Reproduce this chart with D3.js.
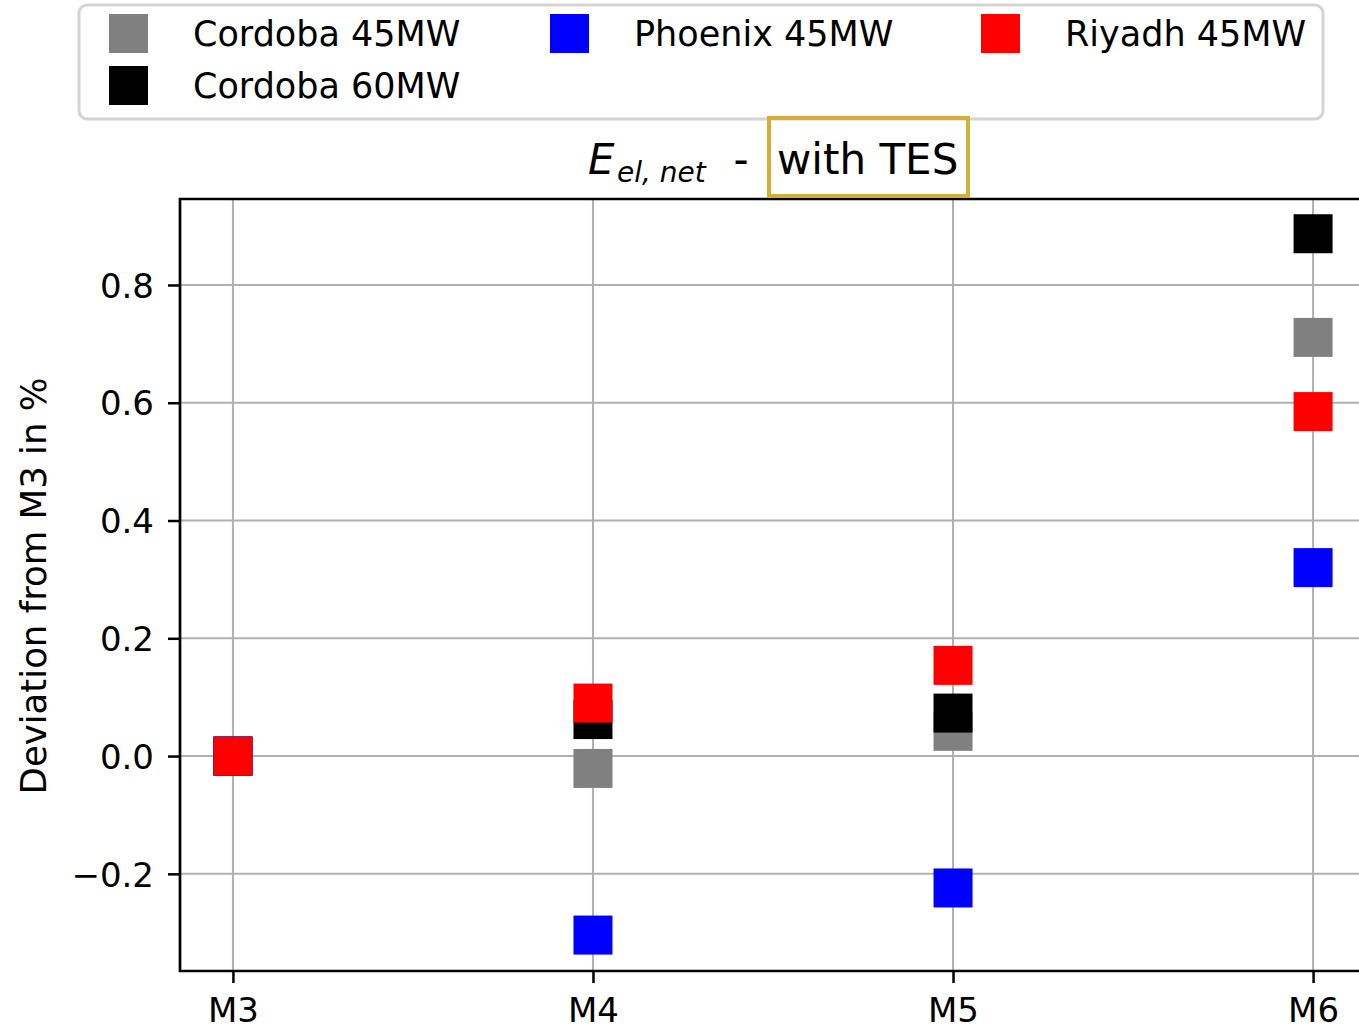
<!DOCTYPE html>
<html>
<head>
<meta charset="utf-8">
<script src="https://cdn.jsdelivr.net/npm/d3@7"></script>
<style>
  html, body { margin: 0; padding: 0; background: #fff; overflow: hidden; }
  svg { display: block; font-family: "DejaVu Sans", sans-serif; }
</style>
</head>
<body>
<svg id="chart" width="1359" height="1025"></svg>
<script>
// Methods on the x axis
const categories = ["M3", "M4", "M5", "M6"];

// Deviation of net electricity yield from M3, in %
const cordoba45 = [0, -0.021, 0.042, 0.711];
const cordoba60 = [0, 0.062, 0.073, 0.887];
const phoenix45 = [0, -0.304, -0.224, 0.320];
const riyadh45  = [0, 0.090, 0.154, 0.585];

const seriesNames  = ["Cordoba 45MW", "Cordoba 60MW", "Phoenix 45MW", "Riyadh 45MW"];
const seriesValues = [cordoba45, cordoba60, phoenix45, riyadh45];
const seriesColors = ["#808080", "#000000", "#0000ff", "#ff0000"];

const yTicks = [-0.2, 0.0, 0.2, 0.4, 0.6, 0.8];
const yLabel = "Deviation from M3 in %";

const svg = d3.select("#chart");

// Plot area (right side runs past the window edge)
const plot = { left: 180, top: 199, right: 1366, bottom: 971 };

const x = d3.scalePoint()
  .domain(categories)
  .range([plot.left, plot.right])
  .padding(0.147);

const y = d3.scaleLinear()
  .domain([-0.365, 0.946])
  .range([plot.bottom, plot.top]);

const gridColor = "#b0b0b0";

// Grid lines
const grid = svg.append("g");
grid.selectAll("line.gx").data(categories).join("line")
  .attr("x1", d => x(d)).attr("x2", d => x(d))
  .attr("y1", plot.top).attr("y2", plot.bottom)
  .attr("stroke", gridColor).attr("stroke-width", 2);
grid.selectAll("line.gy").data(yTicks).join("line")
  .attr("x1", plot.left).attr("x2", plot.right)
  .attr("y1", d => y(d)).attr("y2", d => y(d))
  .attr("stroke", gridColor).attr("stroke-width", 2);

// Square markers, drawn in series order so the last one sits on top
const size = 39;
seriesValues.forEach((vals, i) => {
  svg.append("g").selectAll("rect").data(vals).join("rect")
    .attr("x", (d, j) => x(categories[j]) - size / 2)
    .attr("y", d => y(d) - size / 2)
    .attr("width", size).attr("height", size)
    .attr("fill", seriesColors[i]);
});

// Axes
const fmt = d => d < 0 ? "\u2212" + Math.abs(d).toFixed(1) : d.toFixed(1);
const yAxis = svg.append("g")
  .attr("transform", `translate(${plot.left},0)`)
  .call(d3.axisLeft(y).tickValues(yTicks).tickFormat(fmt).tickSize(12).tickPadding(14));
const xAxis = svg.append("g")
  .attr("transform", `translate(0,${plot.bottom})`)
  .call(d3.axisBottom(x).tickSize(12));

[yAxis, xAxis].forEach(g => {
  g.select(".domain").remove();
  g.selectAll(".tick line").attr("stroke", "#000").attr("stroke-width", 2.5);
  g.selectAll(".tick text")
    .attr("fill", "#000")
    .style("font-family", "'DejaVu Sans', sans-serif")
    .style("font-size", "34px");
});
yAxis.selectAll(".tick text").attr("dy", "0.36em");
xAxis.selectAll(".tick text").attr("y", 51).attr("dy", 0);

// Spines: left, top, bottom
svg.append("path")
  .attr("d", `M${plot.right},${plot.top} H${plot.left} V${plot.bottom} H${plot.right}`)
  .attr("fill", "none").attr("stroke", "#000").attr("stroke-width", 2.7);

// Y-axis label
svg.append("text")
  .attr("transform", "translate(46,586) rotate(-90)")
  .attr("text-anchor", "middle")
  .style("font-size", "35.5px")
  .text(yLabel);

// Legend: three columns, filled column by column (2 + 1 + 1 entries)
const legend = svg.append("g");
legend.append("rect")
  .attr("x", 79).attr("y", 5).attr("width", 1244).attr("height", 114)
  .attr("rx", 8).attr("ry", 8)
  .attr("fill", "#fff").attr("stroke", "#d4d4d4").attr("stroke-width", 3);
const colX = [109, 550, 981];
const rowY = [14, 66];
const entryCol = [0, 0, 1, 2];
const entryRow = [0, 1, 0, 0];
seriesNames.forEach((name, i) => {
  const gx = colX[entryCol[i]], gy = rowY[entryRow[i]];
  legend.append("rect")
    .attr("x", gx).attr("y", gy).attr("width", size).attr("height", size)
    .attr("fill", seriesColors[i]);
  legend.append("text")
    .attr("x", gx + 84).attr("y", gy + 32)
    .style("font-size", "35px")
    .text(name);
});

// Title: E_{el,net} - with TES
const title = svg.append("g");
title.append("text")
  .attr("x", 588).attr("y", 174)
  .style("font-size", "42px").style("font-style", "italic")
  .text("E");
title.append("text")
  .attr("x", 617).attr("y", 182)
  .style("font-size", "28px").style("font-style", "italic")
  .text("el, net");
title.append("text")
  .attr("x", 741).attr("y", 174).attr("text-anchor", "middle")
  .style("font-size", "42px")
  .text("-");
title.append("rect")
  .attr("x", 769).attr("y", 118).attr("width", 199).attr("height", 78)
  .attr("fill", "none").attr("stroke", "#d4af37").attr("stroke-width", 4);
title.append("text")
  .attr("x", 777).attr("y", 174)
  .style("font-size", "42px")
  .text("with TES");
</script>
</body>
</html>
